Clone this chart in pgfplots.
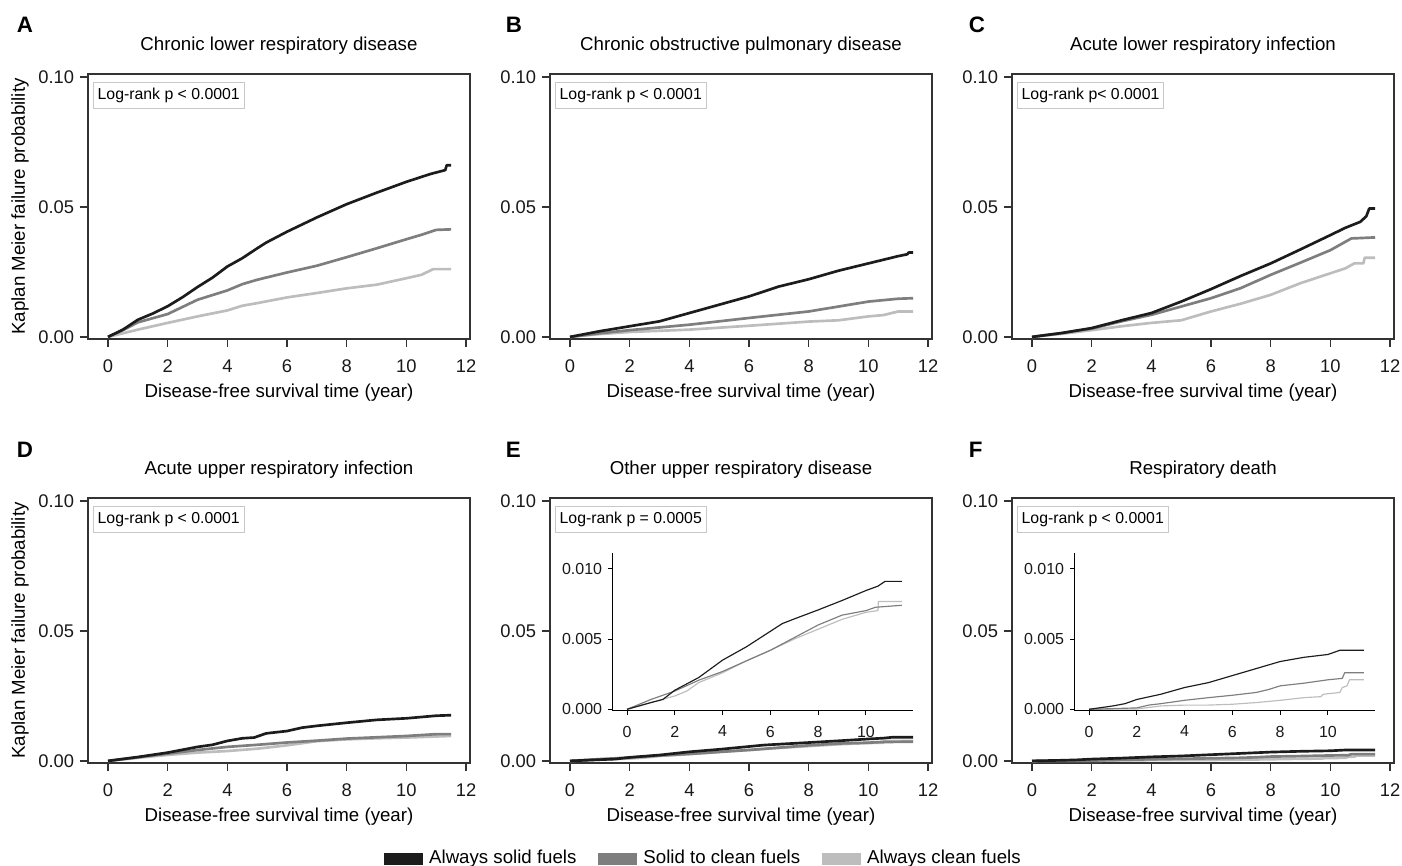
\documentclass[border=0pt]{standalone}
\usepackage{fontspec}
\setmainfont{Liberation Sans}
\usepackage{pgfplots}
\pgfplotsset{compat=1.18}
\definecolor{solidc}{HTML}{1C1C1C}
\definecolor{switchc}{HTML}{7E7E7E}
\definecolor{cleanc}{HTML}{BDBDBD}
\definecolor{axc}{HTML}{333333}
\definecolor{boxc}{HTML}{C8C8C8}

% 1 px of the reference = 0.6pt
\pgfplotsset{
    km/.style={
        scale only axis,
        width=229.2pt, height=159pt,
        xmin=-0.67, xmax=12.13,
        ymin=-0.0008, ymax=0.1012,
        xtick={0,2,...,12},
        ytick={0,0.05,0.1},
        yticklabels={0.00,0.05,0.10},
        scaled y ticks=false,
        tick align=outside,
        xtick pos=bottom, ytick pos=left,
        major tick length=4.8pt,
        axis line style={line width=0.8pt, draw=axc},
        every tick/.style={line width=0.8pt, draw=axc},
        tick label style={font=\fontsize{11}{13}\selectfont, text=black!90},
        xticklabel style={yshift=-4pt},
        /pgf/number format/assume math mode=true,
        title style={font=\fontsize{11.2}{13}\selectfont, at={(axis description cs:0.5,1.07)}, anchor=center},
        xlabel style={font=\fontsize{11.2}{13}\selectfont, anchor=center, at={(axis description cs:0.5,-0.202)}},
        ylabel style={font=\fontsize{11.2}{13}\selectfont, at={(axis description cs:-0.178,0.5)}, anchor=center},
        xlabel={Disease-free survival time (year)},
    },
    inset/.style={
        scale only axis,
        width=180.6pt, height=94.8pt,
        axis lines=left,
        axis line style={-, line width=0.6pt, draw=black},
        every tick/.style={line width=0.6pt, draw=black},
        xmin=-0.63, xmax=11.97,
        ymin=-0.00012, ymax=0.01112,
        xtick={0,2,...,10},
        ytick={0,0.005,0.01},
        yticklabels={0.000,0.005,0.010},
        scaled y ticks=false,
        tick align=outside,
        major tick length=2.4pt,
        tick label style={font=\fontsize{9.6}{11}\selectfont, text=black!90},
        xticklabel style={yshift=-3pt},
        /pgf/number format/assume math mode=true,
    },
    s1/.style={solidc, line width=1.6pt, line join=round},
    s2/.style={switchc, line width=1.6pt, line join=round},
    s3/.style={cleanc, line width=1.6pt, line join=round},
    t1/.style={solidc, line width=0.7pt, line join=round},
    t2/.style={switchc, line width=0.7pt, line join=round},
    t3/.style={cleanc, line width=0.7pt, line join=round},
}
\newcommand{\logrank}[1]{\node[anchor=north west, draw=boxc, line width=0.6pt, fill=white,
    font=\fontsize{9.5}{11}\selectfont, inner xsep=2.5pt, minimum height=13.2pt]
    at (rel axis cs:0,1) [xshift=3pt, yshift=-4.8pt] {#1};}
\newcommand{\plabel}[1]{\node[anchor=base west, font=\fontsize{13.4}{15}\selectfont\bfseries] #1;}

\begin{document}
\begin{tikzpicture}
\useasboundingbox (0,0) rectangle (841.2pt,519.6pt);

% A
\begin{axis}[km, at={(52.8pt,316.2pt)}, anchor=south west,
    title={Chronic lower respiratory disease},
    ylabel={Kaplan Meier failure probability}]
\addplot[s3] coordinates {(0,0) (1,0.0028) (2,0.0054) (3,0.0079) (4,0.0102) (4.5,0.0120) (5,0.0130) (6,0.0152) (7,0.0169) (8,0.0187) (9,0.0201) (10,0.0226) (10.5,0.0239) (10.9,0.0261) (11.5,0.0261)};
\addplot[s2] coordinates {(0,0) (0.5,0.0026) (1,0.0056) (2,0.0088) (3,0.0143) (4,0.0179) (4.5,0.0203) (5,0.0220) (6,0.0248) (7,0.0274) (8,0.0307) (9,0.0341) (10,0.0376) (10.5,0.0393) (11,0.0412) (11.5,0.0414)};
\addplot[s1] coordinates {(0,0) (0.5,0.0028) (1,0.0066) (1.5,0.0090) (2,0.0118) (2.5,0.0153) (3,0.0192) (3.5,0.0228) (4,0.0271) (4.5,0.0303) (5,0.0341) (5.3,0.0363) (6,0.0405) (7,0.0460) (8,0.0511) (9,0.0555) (10,0.0597) (10.8,0.0627) (11.3,0.0642) (11.35,0.0661) (11.5,0.0661)};
\logrank{Log-rank p < 0.0001}
\end{axis}

% B
\begin{axis}[km, at={(330pt,316.2pt)}, anchor=south west,
    title={Chronic obstructive pulmonary disease}]
\addplot[s3] coordinates {(0,0) (1,0.0011) (2,0.0019) (4,0.0028) (6,0.0043) (8,0.0059) (9,0.0064) (10,0.0079) (10.5,0.0084) (11,0.0098) (11.5,0.0098)};
\addplot[s2] coordinates {(0,0) (1,0.0014) (2,0.0026) (4,0.0047) (6,0.0073) (8,0.0098) (9,0.0117) (10,0.0136) (11,0.0147) (11.5,0.0149)};
\addplot[s1] coordinates {(0,0) (1,0.0022) (2,0.0041) (3,0.0060) (4,0.0092) (5,0.0124) (6,0.0156) (7,0.0194) (8,0.0222) (9,0.0255) (10,0.0283) (11,0.0311) (11.3,0.0318) (11.35,0.0325) (11.5,0.0325)};
\logrank{Log-rank p < 0.0001}
\end{axis}

% C
\begin{axis}[km, at={(607.2pt,316.2pt)}, anchor=south west,
    title={Acute lower respiratory infection}]
\addplot[s3] coordinates {(0,0) (1,0.0012) (2,0.0026) (3,0.0041) (4,0.0054) (5,0.0064) (6,0.0098) (7,0.0128) (8,0.0162) (9,0.0207) (10,0.0245) (10.5,0.0264) (10.8,0.0283) (11.1,0.0283) (11.15,0.0305) (11.5,0.0305)};
\addplot[s2] coordinates {(0,0) (1,0.0015) (2,0.0032) (3,0.0060) (4,0.0085) (5,0.0117) (6,0.0149) (7,0.0188) (8,0.0239) (9,0.0286) (10,0.0334) (10.7,0.0379) (11.5,0.0383)};
\addplot[s1] coordinates {(0,0) (1,0.0015) (2,0.0034) (3,0.0064) (4,0.0092) (5,0.0136) (6,0.0184) (7,0.0235) (8,0.0283) (9,0.0337) (10,0.0392) (10.5,0.0420) (11,0.0443) (11.2,0.0464) (11.3,0.0494) (11.5,0.0494)};
\logrank{Log-rank p< 0.0001}
\end{axis}

% D
\begin{axis}[km, at={(52.8pt,61.8pt)}, anchor=south west,
    title={Acute upper respiratory infection},
    ylabel={Kaplan Meier failure probability}]
\addplot[s3] coordinates {(0,0) (1,0.0012) (2,0.0023) (3,0.0032) (4,0.0038) (5,0.0047) (6,0.0060) (7,0.0076) (8,0.0083) (9,0.0087) (10,0.0090) (11,0.0094) (11.5,0.0096)};
\addplot[s2] coordinates {(0,0) (1,0.0014) (2,0.0028) (3,0.0042) (4,0.0054) (5,0.0062) (6,0.0071) (7,0.0078) (8,0.0086) (9,0.0091) (10,0.0096) (11,0.0103) (11.5,0.0103)};
\addplot[s1] coordinates {(0,0) (1,0.0015) (2,0.0032) (3,0.0054) (3.5,0.0062) (4,0.0077) (4.5,0.0087) (4.9,0.0090) (5.3,0.0106) (6,0.0115) (6.5,0.0128) (7,0.0135) (8,0.0147) (9,0.0158) (10,0.0164) (10.5,0.0169) (11,0.0174) (11.5,0.0176)};
\logrank{Log-rank p < 0.0001}
\end{axis}

% E
\begin{axis}[km, at={(330pt,61.8pt)}, anchor=south west,
    title={Other upper respiratory disease},
    legend columns=3,
    legend style={at={(axis description cs:0.403,-0.36)}, anchor=center, draw=none,
        font=\fontsize{11.2}{13}\selectfont,
        /tikz/every odd column/.append style={column sep=2pt},
        /tikz/every even column/.append style={column sep=11pt}},
    legend image code/.code={\fill[#1] (0pt,-3.3pt) rectangle (22.8pt,3.3pt);}]
\addlegendimage{solidc}
\addlegendimage{switchc}
\addlegendimage{cleanc}
\addlegendentry{Always solid fuels}
\addlegendentry{Solid to clean fuels}
\addlegendentry{Always clean fuels}
\addplot[s3, forget plot] coordinates {(0,0) (1,0.00048) (2,0.00095) (2.5,0.0013) (3,0.0019) (4,0.0026) (5,0.00345) (6,0.0042) (7,0.0050) (8,0.0057) (9,0.0064) (10,0.0069) (10.5,0.00702) (10.52,0.00767) (11.5,0.00767)};
\addplot[s2, forget plot] coordinates {(0,0) (1,0.0007) (2,0.0013) (3,0.00207) (4,0.00269) (5,0.00345) (6,0.0042) (7,0.0051) (8,0.0060) (9,0.0067) (10,0.00702) (10.4,0.00726) (11.5,0.0074)};
\addplot[s1, forget plot] coordinates {(0,0) (1,0.00048) (1.5,0.0007) (2,0.00136) (3,0.00226) (4,0.0035) (5,0.00445) (6,0.00555) (6.5,0.0061) (7,0.00643) (8,0.00707) (9,0.00774) (10,0.00845) (10.5,0.00876) (10.8,0.0091) (11.5,0.0091)};
\logrank{Log-rank p = 0.0005}
\end{axis}
\begin{axis}[inset, at={(367.2pt,93pt)}, anchor=south west]
\addplot[t3] coordinates {(0,0) (1,0.00048) (2,0.00095) (2.5,0.0013) (3,0.0019) (4,0.0026) (5,0.00345) (6,0.0042) (7,0.0050) (8,0.0057) (9,0.0064) (10,0.0069) (10.5,0.00702) (10.52,0.00767) (11.5,0.00767)};
\addplot[t2] coordinates {(0,0) (1,0.0007) (2,0.0013) (3,0.00207) (4,0.00269) (5,0.00345) (6,0.0042) (7,0.0051) (8,0.0060) (9,0.0067) (10,0.00702) (10.4,0.00726) (11.5,0.0074)};
\addplot[t1] coordinates {(0,0) (1,0.00048) (1.5,0.0007) (2,0.00136) (3,0.00226) (4,0.0035) (5,0.00445) (6,0.00555) (6.5,0.0061) (7,0.00643) (8,0.00707) (9,0.00774) (10,0.00845) (10.5,0.00876) (10.8,0.0091) (11.5,0.0091)};
\end{axis}

% F
\begin{axis}[km, at={(607.2pt,61.8pt)}, anchor=south west,
    title={Respiratory death}]
\addplot[s3] coordinates {(0,0) (2,0.00002) (3,0.00024) (4,0.0003) (5,0.0003) (6,0.00036) (7,0.00048) (8,0.00064) (9,0.00083) (9.7,0.0009) (9.8,0.00107) (10.5,0.0012) (10.6,0.00155) (10.8,0.00167) (10.9,0.0021) (11.5,0.0021)};
\addplot[s2] coordinates {(0,0) (1,0.00005) (2,0.0001) (2.5,0.0003) (3,0.0004) (4,0.00064) (5,0.00083) (6,0.0010) (7,0.0012) (7.5,0.0014) (8,0.00167) (9,0.00186) (10,0.0021) (10.6,0.0022) (10.7,0.0026) (11.5,0.0026)};
\addplot[s1] coordinates {(0,0) (1,0.00024) (1.5,0.0004) (2,0.0007) (3,0.00107) (4,0.00155) (5,0.0019) (6,0.0024) (7,0.0029) (8,0.0034) (9,0.0037) (10,0.0039) (10.5,0.0042) (11.5,0.0042)};
\logrank{Log-rank p < 0.0001}
\end{axis}
\begin{axis}[inset, at={(644.4pt,93pt)}, anchor=south west]
\addplot[t3] coordinates {(0,0) (2,0.00002) (3,0.00024) (4,0.0003) (5,0.0003) (6,0.00036) (7,0.00048) (8,0.00064) (9,0.00083) (9.7,0.0009) (9.8,0.00107) (10.5,0.0012) (10.6,0.00155) (10.8,0.00167) (10.9,0.0021) (11.5,0.0021)};
\addplot[t2] coordinates {(0,0) (1,0.00005) (2,0.0001) (2.5,0.0003) (3,0.0004) (4,0.00064) (5,0.00083) (6,0.0010) (7,0.0012) (7.5,0.0014) (8,0.00167) (9,0.00186) (10,0.0021) (10.6,0.0022) (10.7,0.0026) (11.5,0.0026)};
\addplot[t1] coordinates {(0,0) (1,0.00024) (1.5,0.0004) (2,0.0007) (3,0.00107) (4,0.00155) (5,0.0019) (6,0.0024) (7,0.0029) (8,0.0034) (9,0.0037) (10,0.0039) (10.5,0.0042) (11.5,0.0042)};
\end{axis}

% panel letters
\plabel{at (6.6pt,499.8pt) {A}}
\plabel{at (300pt,499.8pt) {B}}
\plabel{at (577.8pt,499.8pt) {C}}
\plabel{at (6.6pt,244.8pt) {D}}
\plabel{at (300pt,244.8pt) {E}}
\plabel{at (577.8pt,244.8pt) {F}}
\end{tikzpicture}
\end{document}
